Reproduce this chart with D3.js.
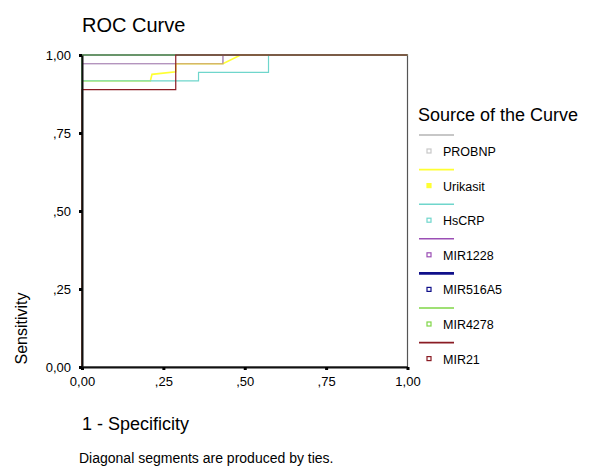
<!DOCTYPE html>
<html>
<head>
<meta charset="utf-8">
<script src="https://cdn.jsdelivr.net/npm/d3@7"></script>
<style>
  body { margin: 0; background: #fff; }
  text { font-family: "Liberation Sans", Arial, sans-serif; fill: #000; }
</style>
</head>
<body>
<svg id="chart" width="589" height="467"></svg>
<script>
// ROC points, [1 - specificity, sensitivity]
const probnp   = [[0, 0], [0, 0.972], [0.433, 0.972], [0.433, 1], [1, 1]];
const urikasit = [[0, 0], [0, 0.917], [0.21, 0.917], [0.215, 0.938], [0.288, 0.946],
                  [0.288, 0.972], [0.433, 0.972], [0.487, 1], [1, 1]];
const hscrp    = [[0, 0], [0, 0.917], [0.358, 0.917], [0.358, 0.944], [0.573, 0.944], [0.573, 1], [1, 1]];
const mir1228  = [[0, 0], [0, 0.972], [0.433, 0.972], [0.433, 1], [1, 1]];
const mir516a5 = [[0, 0], [0, 1], [1, 1]];
const mir4278  = [[0, 0], [0, 1], [1, 1]];
const mir21    = [[0, 0], [0, 0.889], [0.288, 0.889], [0.288, 1], [1, 1]];

const curve_names  = ['PROBNP', 'Urikasit', 'HsCRP', 'MIR1228', 'MIR516A5', 'MIR4278', 'MIR21'];
const curve_colors = ['#b4b4b4', '#ffff33', '#6fd6cc', '#9b4fb5', '#10108a', '#7fd646', '#8a1c24'];
const curve_points = [probnp, urikasit, hscrp, mir1228, mir516a5, mir4278, mir21];

const tick_values = [0, 0.25, 0.5, 0.75, 1];
const tick_labels = ['0,00', ',25', ',50', ',75', '1,00'];

const svg = d3.select('#chart');

const x = d3.scaleLinear().domain([0, 1]).range([82, 407.5]);
const y = d3.scaleLinear().domain([0, 1]).range([367, 55]);

// title
svg.append('text')
  .attr('x', 82).attr('y', 32)
  .style('font-size', '20px')
  .text('ROC Curve');

// plot frame (right side, top is covered by the curves)
svg.append('rect')
  .attr('x', x(0)).attr('y', y(1))
  .attr('width', x(1) - x(0)).attr('height', y(0) - y(1))
  .attr('fill', 'none')
  .attr('stroke', '#555')
  .attr('stroke-width', 1.2);

// curves
const line = d3.line().x(d => x(d[0])).y(d => y(d[1]));
curve_points.forEach((pts, i) => {
  svg.append('path')
    .datum(pts)
    .attr('d', line)
    .attr('fill', 'none')
    .attr('stroke', curve_colors[i])
    .attr('stroke-opacity', i === 3 ? 0.55 : 1)
    .attr('stroke-width', i === 1 ? 1.6 : 1.2);
});

// axes
const xAxis = d3.axisBottom(x).tickValues(tick_values)
  .tickFormat((d, i) => tick_labels[i]).tickSize(0).tickPadding(10);
const yAxis = d3.axisLeft(y).tickValues(tick_values)
  .tickFormat((d, i) => tick_labels[i]).tickSize(0).tickPadding(11);

const gx = svg.append('g').attr('transform', `translate(0,${y(0)})`).call(xAxis);
const gy = svg.append('g').attr('transform', `translate(${x(0)},0)`).call(yAxis);

[gx, gy].forEach(g => {
  g.select('.domain').attr('stroke', '#111').attr('stroke-width', 2);
  g.selectAll('text')
    .style('font-family', '"Liberation Sans", Arial, sans-serif')
    .style('font-size', '13px')
    .attr('fill', '#000');
});
gx.selectAll('.tick').append('rect')
  .attr('x', -1.5).attr('y', 0).attr('width', 3).attr('height', 3).attr('fill', '#000');
gy.selectAll('.tick').append('rect')
  .attr('x', -3).attr('y', -1.5).attr('width', 3).attr('height', 3).attr('fill', '#000');

// axis titles
svg.append('text')
  .attr('x', 82).attr('y', 430)
  .style('font-size', '18px')
  .text('1 - Specificity');

svg.append('text')
  .attr('transform', `translate(27,${(y(0) + 290) / 2}) rotate(-90)`)
  .attr('text-anchor', 'middle')
  .style('font-size', '16px')
  .text('Sensitivity');

svg.append('text')
  .attr('x', 79).attr('y', 463)
  .style('font-size', '14px')
  .text('Diagonal segments are produced by ties.');

// legend
const legend = svg.append('g');
legend.append('text')
  .attr('x', 418).attr('y', 121)
  .style('font-size', '18px')
  .text('Source of the Curve');

const row = 34.6;
curve_names.forEach((name, i) => {
  const ly = 135 + i * row;
  legend.append('line')
    .attr('x1', 419).attr('x2', 454)
    .attr('y1', ly).attr('y2', ly)
    .attr('stroke', curve_colors[i])
    .attr('stroke-width', i === 4 ? 2.6 : 1.6);
  legend.append('rect')
    .attr('x', 427).attr('y', ly + 14)
    .attr('width', 4).attr('height', 4)
    .attr('fill', i === 1 ? curve_colors[i] : 'none')
    .attr('stroke', i === 0 ? '#c8c8c8' : curve_colors[i])
    .attr('stroke-width', 1.2);
  legend.append('text')
    .attr('x', 443).attr('y', ly + 21)
    .style('font-size', '12.5px')
    .text(name);
});
</script>
</body>
</html>
